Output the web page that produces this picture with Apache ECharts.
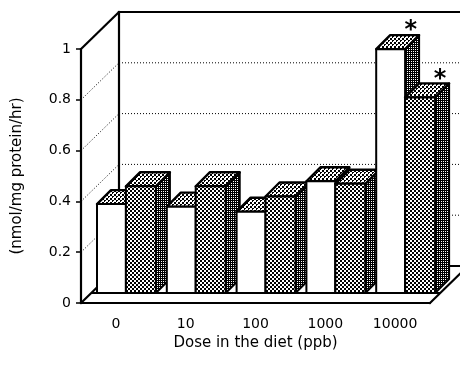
<!DOCTYPE html>
<html>
<head>
<meta charset="utf-8">
<script src="https://cdn.jsdelivr.net/npm/echarts@6/dist/echarts.min.js"></script>
<style>
  html, body { margin: 0; padding: 0; background: #fff; }
  #chart { width: 460px; height: 365px; }
</style>
</head>
<body>
<div id="chart"></div>
<script>
// Enzyme activity by dietary dose
const doses = ['0', '10', '100', '1000', '10000'];
const openBarValues = [0.35, 0.34, 0.32, 0.44, 0.96];
const shadedBarValues = [0.42, 0.42, 0.38, 0.43, 0.77];
const openBarMarks = ['', '', '', '', '*'];
const shadedBarMarks = ['', '', '', '', '*'];
const yTickValues = [0, 0.2, 0.4, 0.6, 0.8, 1];

// Oblique projection of the box: how far the back wall sits from the front plane
const DEPTH_X = 38, DEPTH_Y = 37;
// Bars stand a little behind the front edge and have their own depth
const BAR_FRONT = 10, BAR_DEPTH = 14;
// Horizontal slot of each bar inside its category band (fractions of the band)
const BAR_SLOTS = [[0.086, 0.5], [0.5, 0.93]];
const FONT = '"DejaVu Sans", sans-serif';

function makePattern(size, ink) {
  const c = document.createElement('canvas');
  c.width = c.height = size;
  const ctx = c.getContext('2d');
  ctx.fillStyle = '#fff';
  ctx.fillRect(0, 0, size, size);
  ctx.fillStyle = '#000';
  for (let y = 0; y < size; y++) {
    for (let x = 0; x < size; x++) {
      if (ink(x, y)) ctx.fillRect(x, y, 1, 1);
    }
  }
  return { image: c, repeat: 'repeat' };
}

// halftone fills: mid grey fronts, lighter tops, dark sides
const patFront = makePattern(4, (x, y) => (((x >> 1) + (y >> 1)) % 2) === 0);
const patTop = makePattern(4, (x, y) => (((x >> 1) + (y >> 1)) % 2) === 0 && !(x === 1 && y === 1));
const patSide = makePattern(4, (x, y) => !(x % 2 === 1 && y % 2 === 1));

const barData = [];
doses.forEach((d, i) => {
  barData.push([i, openBarValues[i], 0]);
  barData.push([i, shadedBarValues[i], 1]);
});

function renderBar(params, api) {
  const cat = api.value(0), val = api.value(1), slot = api.value(2);
  const bw = api.size([1, 0])[0];
  const base = api.coord([cat, 0]);
  const top = api.coord([cat, val]);
  const start = base[0] - bw / 2;
  const x0 = start + BAR_SLOTS[slot][0] * bw + BAR_FRONT;
  const x1 = start + BAR_SLOTS[slot][1] * bw + BAR_FRONT;
  const yb = base[1] - BAR_FRONT;
  const yt = top[1] - BAR_FRONT;
  const d = BAR_DEPTH;
  const edge = { stroke: '#000', lineWidth: 2, lineJoin: 'round' };
  const children = [
    {
      type: 'polygon',
      shape: { points: [[x1, yt], [x1 + d, yt - d], [x1 + d, yb - d], [x1, yb]] },
      style: Object.assign({ fill: patSide }, edge)
    },
    {
      type: 'polygon',
      shape: { points: [[x0, yt], [x1, yt], [x1 + d, yt - d], [x0 + d, yt - d]] },
      style: Object.assign({ fill: patTop }, edge, { lineWidth: 2.4 })
    },
    {
      type: 'rect',
      shape: { x: x0, y: yt, width: x1 - x0, height: yb - yt },
      style: Object.assign({ fill: slot === 0 ? '#fff' : patFront }, edge)
    }
  ];
  const mark = (slot === 0 ? openBarMarks : shadedBarMarks)[cat];
  if (mark) {
    children.push({
      type: 'text',
      style: {
        text: mark,
        x: (x0 + x1) / 2 + d + 6,
        y: yt - d - 12 + 8,
        fill: '#000',
        font: 'bold 24px ' + FONT,
        align: 'center',
        verticalAlign: 'middle'
      }
    });
  }
  return { type: 'group', children };
}

function renderFrame(params, api) {
  const v = api.value(0);
  const n = doses.length;
  const bw = api.size([1, 0])[0];
  const left = api.coord([0, v])[0] - bw / 2;
  const right = api.coord([n - 1, v])[0] + bw / 2;
  const y = api.coord([0, v])[1];
  const y0 = api.coord([0, 0])[1];
  const solid = { stroke: '#000', lineWidth: 2.2, lineCap: 'square' };
  const dotted = { stroke: '#000', lineWidth: 1, lineDash: [1, 2] };
  const isEdge = (v === yTickValues[0] || v === yTickValues[yTickValues.length - 1]);
  const st = isEdge ? solid : dotted;
  const children = [
    { type: 'line', shape: { x1: left, y1: y, x2: left + DEPTH_X, y2: y - DEPTH_Y }, style: st },
    { type: 'line', shape: { x1: left + DEPTH_X, y1: y - DEPTH_Y, x2: right + DEPTH_X + 20, y2: y - DEPTH_Y }, style: st }
  ];
  if (v === yTickValues[0]) {
    children.push(
      { type: 'line', shape: { x1: right, y1: y, x2: right + DEPTH_X, y2: y - DEPTH_Y }, style: solid },
      { type: 'line', shape: { x1: left + BAR_FRONT, y1: y - BAR_FRONT, x2: right + BAR_FRONT, y2: y - BAR_FRONT }, style: { stroke: '#000', lineWidth: 1.8 } }
    );
  }
  if (v === yTickValues[yTickValues.length - 1]) {
    children.push(
      { type: 'line', shape: { x1: left + DEPTH_X, y1: y - DEPTH_Y, x2: left + DEPTH_X, y2: y0 - DEPTH_Y }, style: solid }
    );
  }
  return { type: 'group', children };
}

const chart = echarts.init(document.getElementById('chart'), null, { renderer: 'canvas' });
chart.setOption({
  animation: false,
  backgroundColor: '#fff',
  grid: { left: 81, right: 30, top: 49, bottom: 62 },
  xAxis: {
    type: 'category',
    data: doses,
    boundaryGap: true,
    name: 'Dose in the diet (ppb)',
    nameLocation: 'middle',
    nameGap: 30,
    nameTextStyle: { fontFamily: FONT, fontSize: 15, color: '#000' },
    axisLine: { lineStyle: { color: '#000', width: 2.2 } },
    axisTick: { alignWithLabel: true, length: 6, lineStyle: { color: '#000', width: 1.5 } },
    axisLabel: { margin: 14, fontFamily: FONT, fontSize: 14, color: '#000' },
    splitLine: { show: false }
  },
  yAxis: {
    type: 'value',
    min: 0,
    max: 1,
    interval: 0.2,
    name: '(nmol/mg protein/hr)',
    nameLocation: 'middle',
    nameGap: 56,
    nameTextStyle: { fontFamily: FONT, fontSize: 15, color: '#000' },
    axisLine: { show: true, lineStyle: { color: '#000', width: 2.2 } },
    axisTick: { show: true, length: 5, lineStyle: { color: '#000', width: 1.5 } },
    axisLabel: { margin: 10, fontFamily: FONT, fontSize: 14, color: '#000' },
    splitLine: { show: false }
  },
  series: [
    {
      type: 'custom',
      z: 1,
      clip: false,
      silent: true,
      data: yTickValues.map(v => [v]),
      encode: { y: 0 },
      renderItem: renderFrame
    },
    {
      type: 'custom',
      z: 2,
      clip: false,
      silent: true,
      data: barData,
      encode: { x: 0, y: 1 },
      renderItem: renderBar
    }
  ]
});
</script>
</body>
</html>
